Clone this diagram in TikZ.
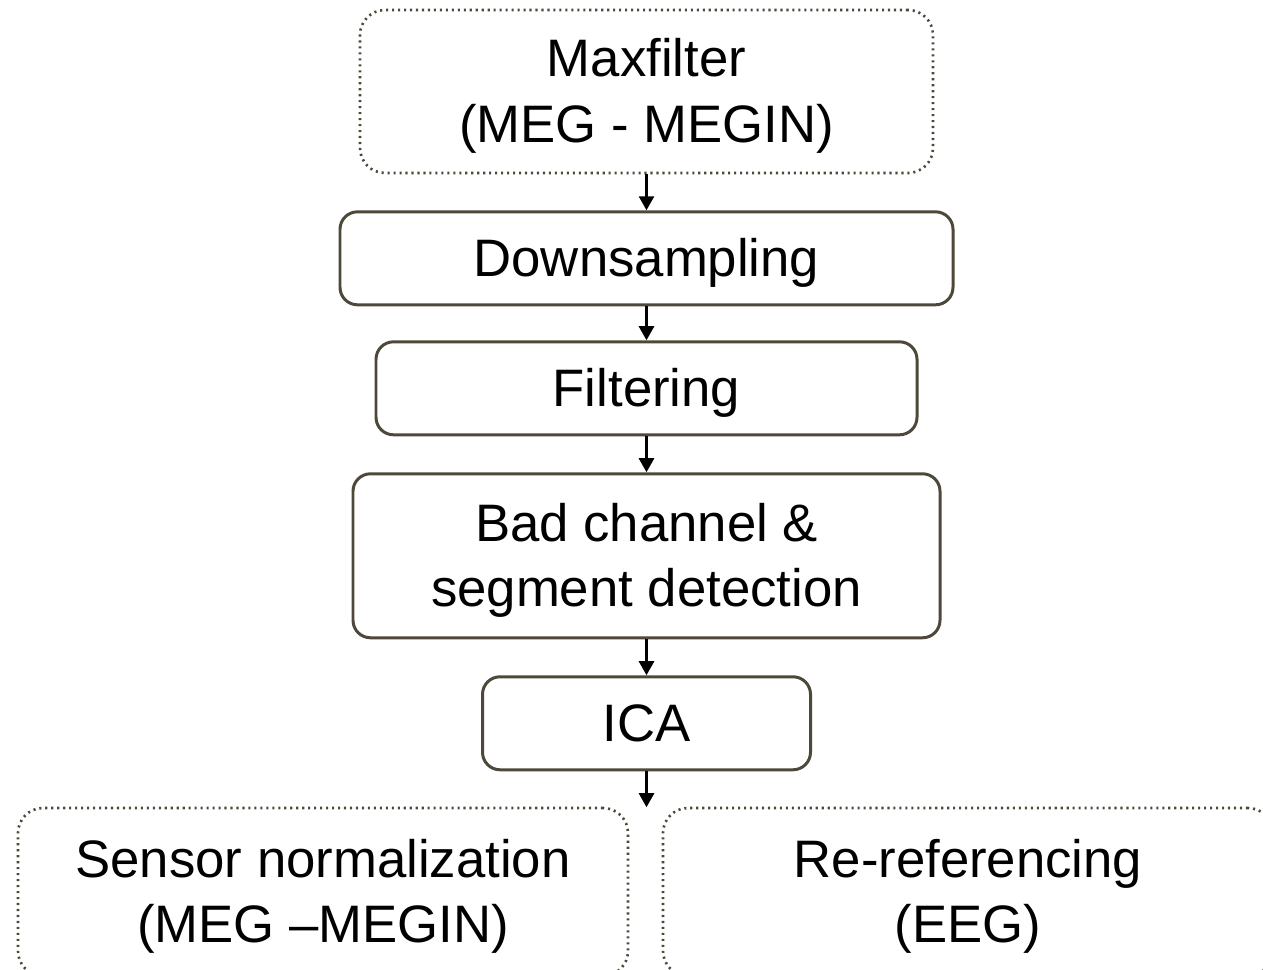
\documentclass[tikz,border=0pt]{standalone}
\usepackage{fontspec}
\setmainfont{Liberation Sans}
\usetikzlibrary{positioning,arrows.meta}
\definecolor{boxline}{RGB}{77,72,58}
\newcommand{\boxtext}[1]{\raisebox{-0.1cm}[\height][\depth]{\setlength{\tabcolsep}{0pt}\begin{tabular}{c}#1\end{tabular}}}
\begin{document}
\begin{tikzpicture}[
    rounded corners = 0.35cm,
    font = \fontsize{30}{37}\selectfont,
    stepbox/.style = {draw = boxline, line width = 1.7pt, minimum height = 1.86cm},
    optbox/.style = {draw = boxline, line width = 1.5pt, dash pattern = on 1.2pt off 2.2pt, rounded corners = 0.5cm},
    flow/.style = {-{Triangle[width = 8.5pt, length = 8pt]}, line width = 1.6pt, black, rounded corners = 0pt}
]
\useasboundingbox (0,0) rectangle (25.26,-19.4);
\node[optbox, minimum width = 11.46cm, minimum height = 3.26cm] (maxf) at (12.93,-1.83) {\boxtext{Maxfilter\\(MEG - MEGIN)}};
\node[stepbox, minimum width = 12.26cm] (down) [below = 0.72cm of maxf] {\boxtext{Downsampling}};
\node[stepbox, minimum width = 10.82cm] (filt) [below = 0.68cm of down] {\boxtext{Filtering}};
\node[stepbox, minimum width = 11.74cm, minimum height = 3.28cm] (bad) [below = 0.72cm of filt] {\boxtext{Bad channel \&\\segment detection}};
\node[stepbox, minimum width = 6.56cm] (ica) [below = 0.72cm of bad] {\boxtext{ICA}};
\coordinate[below = 0.72cm of ica] (split);
\node[optbox, minimum width = 12.2cm, minimum height = 3.36cm] (norm) at (6.46,-17.84) {\boxtext{Sensor normalization\\(MEG –MEGIN)}};
\node[optbox, minimum width = 12.2cm, minimum height = 3.36cm] (reref) at (19.36,-17.84) {\boxtext{Re-referencing\\(EEG)}};
% arrows
\draw[flow] (maxf) -- (down);
\draw[flow] (down) -- (filt);
\draw[flow] (filt) -- (bad);
\draw[flow] (bad) -- (ica);
\draw[flow] (ica) -- (split);
\end{tikzpicture}
\end{document}
